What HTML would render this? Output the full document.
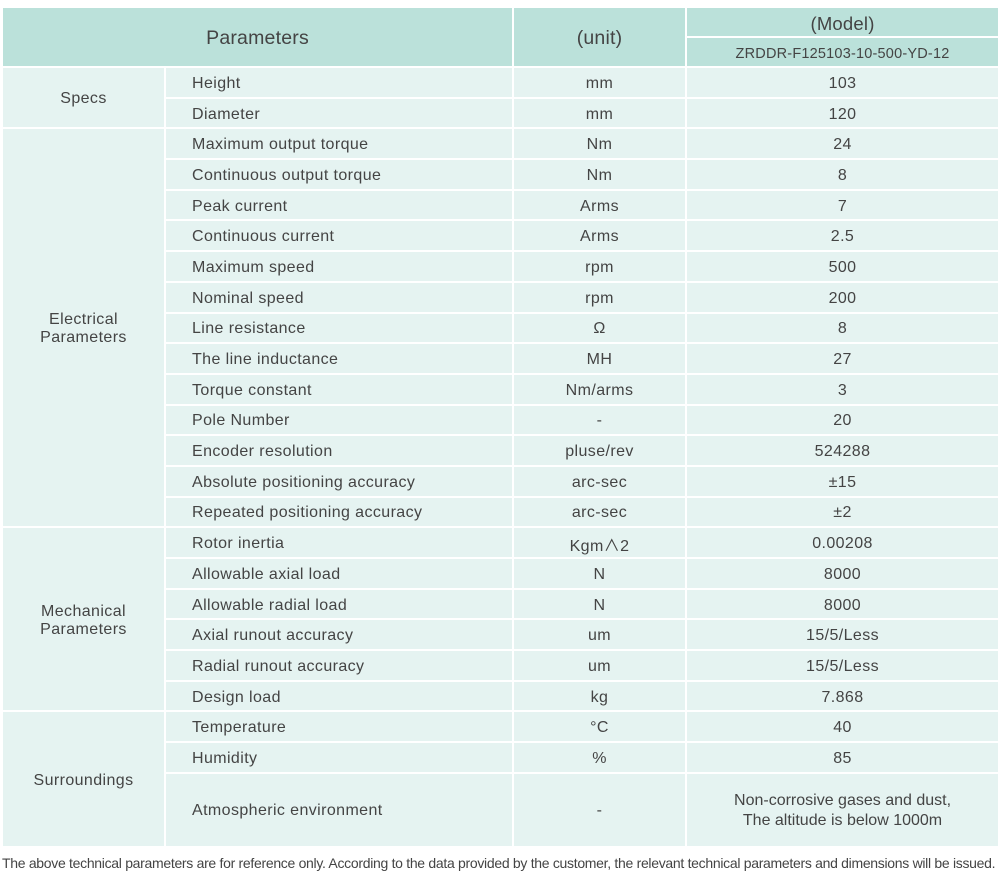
<!DOCTYPE html>
<html><head><meta charset="utf-8"><style>
body{margin:0;background:#fff;width:1000px;height:885px;position:relative;font-family:"Liberation Sans","Noto Sans CJK SC",sans-serif;color:#444;overflow:hidden;}
table{position:absolute;left:1px;top:6px;border-collapse:collapse;table-layout:fixed;width:997px;}
td{border:2px solid #fff;background:#e5f3f1;font-size:16px;letter-spacing:0.4px;text-align:center;padding:3px 0 0 0;height:25.7px;}
td.p{text-align:left;padding-left:26px;}
tr.h td{background:#bbe1da;letter-spacing:0.2px;}
.foot{position:absolute;left:2px;top:855px;font-size:14px;letter-spacing:-0.3px;white-space:nowrap;color:#444;}
</style></head><body>
<table>
<colgroup><col style="width:163px"><col style="width:348px"><col style="width:173px"><col style="width:313px"></colgroup>
<tr class="h"><td colspan="2" rowspan="2" style="font-size:19.5px;height:55px">Parameters</td><td rowspan="2" style="font-size:19.5px">(unit)</td><td style="font-size:18.5px;height:25px">(Model)</td></tr>
<tr class="h"><td style="font-size:14.5px;height:25px">ZRDDR-F125103-10-500-YD-12</td></tr>
<tr><td rowspan="2">Specs</td><td class="p">Height</td><td>mm</td><td>103</td></tr>
<tr><td class="p">Diameter</td><td>mm</td><td>120</td></tr>
<tr><td rowspan="13">Electrical<br>Parameters</td><td class="p">Maximum output torque</td><td>Nm</td><td>24</td></tr>
<tr><td class="p">Continuous output torque</td><td>Nm</td><td>8</td></tr>
<tr><td class="p">Peak current</td><td>Arms</td><td>7</td></tr>
<tr><td class="p">Continuous current</td><td>Arms</td><td>2.5</td></tr>
<tr><td class="p">Maximum speed</td><td>rpm</td><td>500</td></tr>
<tr><td class="p">Nominal speed</td><td>rpm</td><td>200</td></tr>
<tr><td class="p">Line resistance</td><td>Ω</td><td>8</td></tr>
<tr><td class="p">The line inductance</td><td>MH</td><td>27</td></tr>
<tr><td class="p">Torque constant</td><td>Nm/arms</td><td>3</td></tr>
<tr><td class="p">Pole Number</td><td>-</td><td>20</td></tr>
<tr><td class="p">Encoder resolution</td><td>pluse/rev</td><td>524288</td></tr>
<tr><td class="p">Absolute positioning accuracy</td><td>arc-sec</td><td>±15</td></tr>
<tr><td class="p">Repeated positioning accuracy</td><td>arc-sec</td><td>±2</td></tr>
<tr><td rowspan="6">Mechanical<br>Parameters</td><td class="p">Rotor inertia</td><td>Kgm∧2</td><td>0.00208</td></tr>
<tr><td class="p">Allowable axial load</td><td>N</td><td>8000</td></tr>
<tr><td class="p">Allowable radial load</td><td>N</td><td>8000</td></tr>
<tr><td class="p">Axial runout accuracy</td><td>um</td><td>15/5/Less</td></tr>
<tr><td class="p">Radial runout accuracy</td><td>um</td><td>15/5/Less</td></tr>
<tr><td class="p">Design load</td><td>kg</td><td>7.868</td></tr>
<tr><td rowspan="3">Surroundings</td><td class="p">Temperature</td><td>°C</td><td>40</td></tr>
<tr><td class="p">Humidity</td><td>%</td><td>85</td></tr>
<tr><td class="p" style="height:69px">Atmospheric environment</td><td>-</td><td style="line-height:20px;letter-spacing:0">Non-corrosive gases and dust,<br>The altitude is below 1000m</td></tr>
</table>
<div class="foot">The above technical parameters are for reference only. According to the data provided by the customer, the relevant technical parameters and dimensions will be issued.</div>
</body></html>
